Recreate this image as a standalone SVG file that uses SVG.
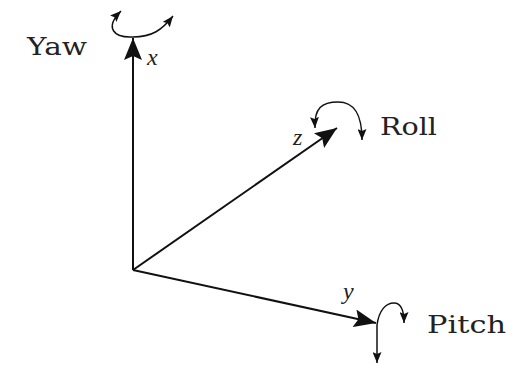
<svg xmlns="http://www.w3.org/2000/svg" width="524" height="365" viewBox="0 0 524 365">
<style>
.axis{stroke:#111;stroke-width:2;fill:none;marker-end:url(#big)}
.rot{stroke:#111;stroke-width:1.5;fill:none}
.lbl{font-family:"DejaVu Serif","Liberation Serif",serif;font-size:25px;fill:#222}
.var{font-family:"Liberation Serif",serif;font-style:italic;font-size:24px;fill:#222}
</style>
<defs>
<marker id="big" viewBox="0 0 22 18" refX="22" refY="9" markerWidth="22" markerHeight="18" markerUnits="userSpaceOnUse" orient="auto">
<path d="M0,0 L22,9 L0,18 L4,9 z" fill="#111"/>
</marker>
<marker id="sm" viewBox="0 0 11 9" refX="11" refY="4.5" markerWidth="11" markerHeight="9" markerUnits="userSpaceOnUse" orient="auto-start-reverse">
<path d="M0,0 L11,4.5 L0,9 L2,4.5 z" fill="#111"/>
</marker>
</defs>
<rect width="524" height="365" fill="#fff"/>
<g id="connectors">
<path class="axis" d="M133,270 L133,38"/>
<path class="axis" d="M133,270 L337,128"/>
<path class="axis" d="M133,270 L376,323"/>
</g>
<g id="yaw">
<path class="rot" d="M133,37 C114,38 104,28 121,11" marker-end="url(#sm)"/>
<path class="rot" d="M133,37 C152,37 162,30 173,16" marker-end="url(#sm)"/>
<text class="lbl" x="27" y="55" textLength="60" lengthAdjust="spacingAndGlyphs">Yaw</text>
<text class="var" x="147" y="65">x</text>
</g>
<g id="roll">
<path class="rot" d="M315,128 C314,108 322,102 338,102 C355,102 362,115 362,140" marker-start="url(#sm)" marker-end="url(#sm)"/>
<text class="lbl" x="380" y="135" textLength="57" lengthAdjust="spacingAndGlyphs">Roll</text>
<text class="var" x="293" y="145">z</text>
</g>
<g id="pitch">
<path class="rot" d="M377,325 C379,310 386,303 394,303 C401,303 404,310 404,323" marker-end="url(#sm)"/>
<path class="rot" d="M377,325 L377,363" marker-end="url(#sm)"/>
<text class="lbl" x="427" y="333" textLength="79" lengthAdjust="spacingAndGlyphs">Pitch</text>
<text class="var" x="343" y="299">y</text>
</g>
</svg>
